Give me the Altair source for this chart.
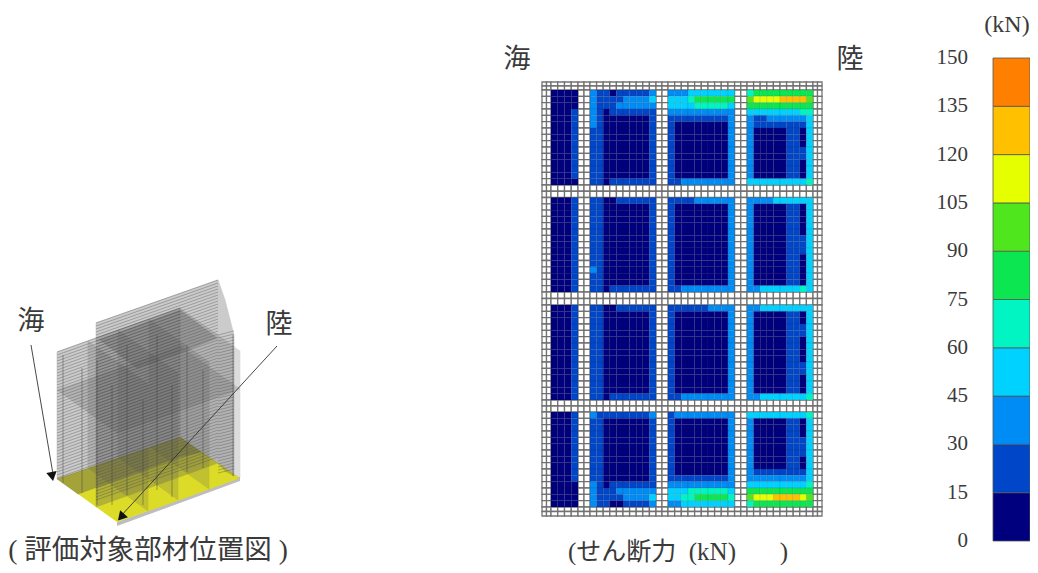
import altair as alt
import pandas as pd

# ---- data -----------------------------------------------------------------
BAND_EDGES = [0, 15, 30, 45, 60, 75, 90, 105, 120, 135, 150]
BAND_COLORS = ["#00007f", "#0046c8", "#008cf5", "#00d2ff", "#00f5c3",
               "#0ce650", "#50e61e", "#e6ff00", "#ffc000", "#ff8000"]
TICKS = [0, 15, 30, 45, 60, 75, 90, 105, 120, 135, 150]

A = "0001 1100000001 1000000002 2000001103"
B = "0001 1100000001 1000000002 2000001113"
TIER1 = [
    "0000 2110111112 2223333333 4555555555",
    "0000 2111122223 3334555555 6777788886",
    "0000 2111222222 3333444443 5555555555",
    "0001 2101111111 2222222222 3333333344",
    "0001 2100000001 1111111112 2112222223",
    "0001 2100000001 1000000002 2111111113",
    A, A, A, B, B, A, A, A,
    "0000 1101111111 1122222222 3333333334",
]
TIER2 = [
    "0001 1100111111 1111222222 2222333333",
    A, A, A, A, A, B, B, B, A, A,
    "0001 2100000001 1000000002 2000001103",
    A, A,
    "0001 1101111111 1122222222 2233333343",
]
TIER3 = [
    "0001 1100111111 1111112222 2233333333",
    A, A, B, B, A, A, A, A, B, B, A, A, A,
    "0001 1101111111 1122222222 2233333334",
]
TIER4 = [
    "0001 2111111112 1222222222 3333333334",
    A, A, A, B, B, B, A, A,
    "0001 1100000001 1000000002 2111111113",
    "0001 1100000001 1111111112 2222222223",
    "0000 2101111111 2222222222 3333333334",
    "0000 2111222222 3334444443 5555555555",
    "0000 2111122223 3344555554 6777888876",
    "0000 2110011112 2233333333 4555555555",
]

# cell-index break points of the non-uniform shell mesh
COL_BREAKS = [0, 2, 6, 8, 18, 20, 30, 32, 42, 44]
ROW_BREAKS = [0, 2, 17, 19, 34, 36, 51, 53, 68, 70]

# ---- build the mesh table -------------------------------------------------
def full_row(s):
    return ".." + ".." .join(s.split(" ")) + ".."

blank = "." * 44
rows = [blank, blank]
for tier in (TIER1, TIER2, TIER3, TIER4):
    rows += [full_row(r) for r in tier] + [blank, blank]
cells = []
for r, row in enumerate(rows):
    for c, ch in enumerate(row):
        cells.append({"c": c, "c2": c + 1, "r": r, "r2": r + 1, "b": ch})
cells = pd.DataFrame(cells)

# ---- scales ---------------------------------------------------------------
W, H = 1022, 557
def PX(f):
    return alt.X(f, type="quantitative", axis=None, scale=alt.Scale(domain=[8, 1030], range=[0, W]))
def PY(f):
    return alt.Y(f, type="quantitative", axis=None, scale=alt.Scale(domain=[8, 565], range=[0, H]))

col_scale = alt.Scale(domain=COL_BREAKS, range=[534, 543, 570, 582, 648, 660, 726.6, 739, 805, 814])
row_scale = alt.Scale(domain=ROW_BREAKS, range=[74, 82, 177, 189.5, 284, 297, 392, 404, 499, 508])

def mesh(sel, stroke, sw, op):
    return (alt.Chart(cells[sel]).mark_rect(stroke=stroke, strokeWidth=sw, strokeOpacity=op)
            .encode(x=alt.X("c:Q", axis=None, scale=col_scale), x2="c2:Q",
                    y=alt.Y("r:Q", axis=None, scale=row_scale), y2="r2:Q",
                    color=alt.Color("b:N", legend=None,
                                    scale=alt.Scale(domain=list(".0123456789"),
                                                    range=["#ffffff"] + BAND_COLORS))))

heat = mesh(cells.b != ".", "#222222", 0.4, 0.25)
white = mesh(cells.b == ".", "#6e6e6e", 1.3, 0.95)

# ---- colour bar -----------------------------------------------------------
bar_y = alt.Scale(domain=[0, 150], range=[533, 50])
bar_df = pd.DataFrame({"lo": BAND_EDGES[:-1], "hi": BAND_EDGES[1:], "b": list("0123456789")})
bar = (alt.Chart(bar_df).mark_rect(stroke="#555555", strokeWidth=0.8)
       .encode(x=alt.value(985), x2=alt.value(1022),
               y=alt.Y("lo:Q", axis=None, scale=bar_y), y2="hi:Q",
               color=alt.Color("b:N", legend=None,
                               scale=alt.Scale(domain=list("0123456789"), range=BAND_COLORS))))
SERIF = "Liberation Serif, Noto Sans CJK JP"
tick_labels = (alt.Chart(pd.DataFrame({"v": TICKS})).mark_text(
                   align="right", baseline="middle", font=SERIF, fontSize=21, color="#3a3a3a")
               .encode(x=alt.value(960), y=alt.Y("v:Q", axis=None, scale=bar_y), text="v:Q"))

# ---- 3-D location sketch --------------------------------------------------
def band_polys():
    out = []
    polys = {
        "floor_shade": (0.42, [(57, 479, 479), (78, 472, 494), (180, 437, 457), (201, 452, 452)]),
        "wall_front": (0.30, [(57, 352, 479), (180, 308, 437)]),
        "wall_rear": (0.30, [(96, 323, 507), (218, 280, 463), (225, 300, 471), (234, 335, 476)]),
        "cross1": (0.20, [(88, 341, 468), (148, 384, 511)]),
        "cross2": (0.20, [(118, 330, 457), (178, 373, 500)]),
        "cross3": (0.20, [(149, 319, 446), (209, 362, 489)]),
        "cross4": (0.20, [(180, 308, 437), (240, 351, 478)]),
        "slab_mid": (0.20, [(57, 390, 390), (117, 369, 433), (180, 346, 411), (240, 389, 389)]),
        "slab_top": (0.30, [(100, 340, 340), (137, 326, 368), (180, 310, 353), (217, 338, 338)]),
    }
    for name, (op, pts) in polys.items():
        for x, t, b in pts:
            out.append({"id": name, "x": x, "t": t, "b": b, "op": op})
    return pd.DataFrame(out)

strip = pd.DataFrame({"x": [117, 240], "t": [522, 477], "b": [526, 481]})
floor = pd.DataFrame({"x": [57, 117, 180, 240], "t": [479, 458, 437, 478], "b": [479, 522, 500, 478]})
area_enc = dict(x=PX("x"), y=PY("t"), y2="b:Q")
strip_l = alt.Chart(strip).mark_area(color="#bdbdbd").encode(**area_enc)
floor_l = alt.Chart(floor).mark_area(color="#dcdc28").encode(**area_enc)
walls = (alt.Chart(band_polys()).mark_area(color="#555555", stroke="#444444", strokeWidth=0.6)
         .encode(opacity=alt.Opacity("op:Q", scale=None), detail="id:N", **area_enc))

lines = []
for off in range(0, 127, 3):
    lines.append({"x": 57, "x2": 180, "y": 352 + off, "y2": 308 + off})
for off in range(0, 180, 3):
    lines.append({"x": 96, "x2": 218, "y": 323 + off, "y2": 280 + off})
for off in range(0, 140, 3):
    lines.append({"x": 218, "x2": 234, "y": 335 + off, "y2": 331 + off})
mesh_lines = (alt.Chart(pd.DataFrame(lines)).mark_rule(color="#4d4d4d", strokeWidth=0.55, opacity=0.7)
              .encode(x=PX("x"), x2="x2:Q", y=PY("y"), y2="y2:Q"))

VX = [63, 82, 97, 112, 127, 143, 157, 172, 187, 203, 233]
VT = [355, 368, 360, 385, 345, 400, 335, 385, 345, 370, 335]
VB = [483, 493, 505, 505, 495, 505, 490, 497, 472, 468, 476]
verts = (alt.Chart(pd.DataFrame({"x": VX, "t": VT, "b": VB}))
         .mark_rule(color="#3d3d3d", strokeWidth=0.9, opacity=0.5)
         .encode(x=PX("x"), y=PY("t"), y2="b:Q"))

arrows = pd.DataFrame({"x": [31, 277], "x2": [53, 120], "y": [345, 346], "y2": [474, 517]})
arrow_l = (alt.Chart(arrows).mark_rule(color="#333333", strokeWidth=0.9)
           .encode(x=PX("x"), x2="x2:Q", y=PY("y"), y2="y2:Q"))
head1 = (alt.Chart(pd.DataFrame({"x": [52], "y": [475]}))
         .mark_point(shape="triangle", filled=True, size=110, angle=170, color="#111111", opacity=1)
         .encode(x=PX("x"), y=PY("y")))
head2 = (alt.Chart(pd.DataFrame({"x": [122], "y": [516]}))
         .mark_point(shape="triangle", filled=True, size=110, angle=222, color="#111111", opacity=1)
         .encode(x=PX("x"), y=PY("y")))

# ---- text -----------------------------------------------------------------
def label(text, x, y, size):
    return (alt.Chart(pd.DataFrame({"x": [x], "y": [y], "t": [text]}))
            .mark_text(font=SERIF, fontSize=size, color="#3a3a3a", align="center", baseline="middle")
            .encode(x=PX("x"), y=PY("y"), text="t:N"))

NB = "\u00a0"
texts = [
    label("海", 517, 60, 27), label("陸", 850, 60, 27),
    label("(kN)", 1007, 25, 24),
    label("(せん断力" + NB * 2 + "(kN)" + NB * 7 + ")", 678, 552, 25),
    label("海", 31, 322, 27), label("陸", 279, 325, 27),
    label("( 評価対象部材位置図 )", 148, 551, 27.5),
]

chart = (alt.layer(strip_l, floor_l, walls, mesh_lines, verts, arrow_l, head1, head2,
                   white, heat, bar, tick_labels, *texts)
         .resolve_scale(x="independent", y="independent", color="independent", opacity="independent")
         .properties(width=W, height=H, padding=0, autosize=alt.AutoSizeParams(type="none"))
         .configure_view(stroke=None))
chart.save("out.html", embed_options={"renderer": "svg", "actions": False})
